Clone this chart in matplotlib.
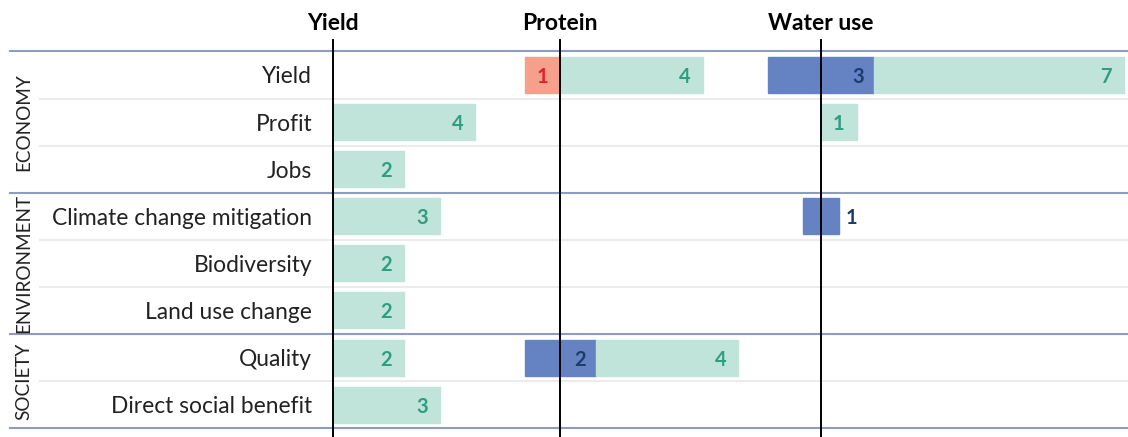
import matplotlib.pyplot as plt
from matplotlib.patches import Rectangle

# rows (top to bottom) and the group each belongs to
rows = ['Yield', 'Profit', 'Jobs', 'Climate change mitigation', 'Biodiversity',
        'Land use change', 'Quality', 'Direct social benefit']
groups = ['ECONOMY', 'ENVIRONMENT', 'SOCIETY']
group_sizes = [3, 3, 2]
panels = ['Yield', 'Protein', 'Water use']

# number of studies per row, one list per panel
negative = {'Yield':     [0, 0, 0, 0, 0, 0, 0, 0],
            'Protein':   [1, 0, 0, 0, 0, 0, 0, 0],
            'Water use': [0, 0, 0, 0, 0, 0, 0, 0]}
neutral = {'Yield':     [0, 0, 0, 0, 0, 0, 0, 0],
           'Protein':   [0, 0, 0, 0, 0, 0, 2, 0],
           'Water use': [3, 0, 0, 1, 0, 0, 0, 0]}
positive = {'Yield':     [0, 4, 2, 3, 2, 2, 2, 3],
            'Protein':   [4, 0, 0, 0, 0, 0, 4, 0],
            'Water use': [7, 1, 0, 0, 0, 0, 0, 0]}

# layout (x in bar units, zero of each panel)
panel_x0 = {'Yield': 0.0, 'Protein': 6.38, 'Water use': 13.71}
unit_px = 35.6
row_px = 47.1
W, H = 1128, 437

c_pos, t_pos = '#c0e3da', '#2e9e80'
c_neu, t_neu = '#6582c2', '#1d3c6e'
c_neg, t_neg = '#f4a08a', '#e3202a'
c_grp = '#8f9cc2'
c_sep = '#ebebeb'

plt.rcParams['font.family'] = ['Lato', 'DejaVu Sans']

fig = plt.figure(figsize=(W / 100, H / 100), dpi=100)
ax = fig.add_axes([0, 0, 1, 1])
xl = -333 / unit_px
xr = (W - 333) / unit_px
yt = -75 / row_px
yb = (H - 75) / row_px
ax.set_xlim(xl, xr)
ax.set_ylim(yb, yt)
ax.axis('off')

def px2x(px):
    return xl + px / unit_px

bh = 36 / row_px

# separators
start = 0
bounds = [-0.5]
for g, n in zip(groups, group_sizes):
    for k in range(1, n):
        ax.plot([px2x(40), xr], [start + k - 0.5] * 2, color=c_sep, lw=1.5, zorder=0)
    start += n
    bounds.append(start - 0.5)
for b in bounds:
    ax.plot([px2x(10), xr], [b, b], color=c_grp, lw=1.5, zorder=1)

# group labels
start = 0
for g, n in zip(groups, group_sizes):
    ax.text(px2x(24), start + (n - 1) / 2, g, rotation=90, ha='center', va='center',
            fontsize=13.6, color='#222222')
    start += n

# row labels
for i, r in enumerate(rows):
    ax.text(px2x(312), i, r, ha='right', va='center_baseline', fontsize=16.4,
            color='#222222')

lab_kw = dict(va='center_baseline', fontsize=14.5, fontweight='bold')
for p in panels:
    x0 = panel_x0[p]
    for i in range(len(rows)):
        ng, nu, ps = negative[p][i], neutral[p][i], positive[p][i]
        right = x0
        if ng:
            ax.add_patch(Rectangle((x0 - ng, i - bh / 2), ng, bh, color=c_neg, zorder=2))
            ax.text(x0 - ng / 2, i, str(ng), ha='center', color=t_neg, **lab_kw, zorder=4)
        if nu:
            ax.add_patch(Rectangle((x0 - nu / 2, i - bh / 2), nu, bh, color=c_neu, zorder=2))
            right = x0 + nu / 2
            if nu == 1:
                ax.text(right + 0.2, i, str(nu), ha='left', color=t_neu, **lab_kw, zorder=4)
            else:
                ax.text(right - 0.45, i, str(nu), ha='center', color=t_neu, **lab_kw, zorder=4)
        if ps:
            ax.add_patch(Rectangle((right, i - bh / 2), ps, bh, color=c_pos, zorder=2))
            ax.text(right + ps - 0.5, i, str(ps), ha='center', color=t_pos, **lab_kw, zorder=4)
    ax.plot([x0, x0], [(40 - 75) / row_px, yb], color='black', lw=1.4, zorder=3)
    ax.text(x0, (22 - 75) / row_px, p, ha='center', va='center_baseline', fontsize=16.5,
            fontweight='bold', color='black')

fig.savefig('out.png', dpi=100)
